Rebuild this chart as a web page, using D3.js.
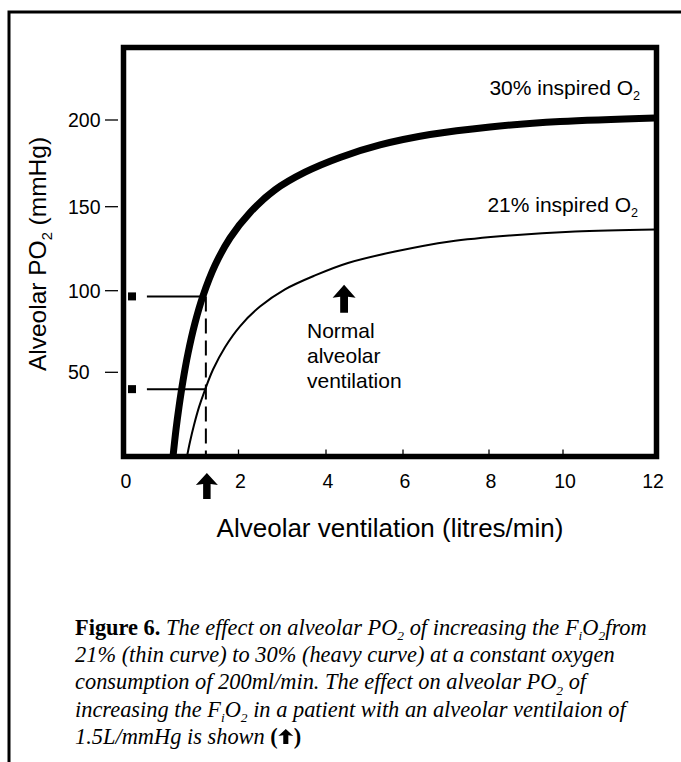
<!DOCTYPE html>
<html>
<head>
<meta charset="utf-8">
<script src="https://cdn.jsdelivr.net/npm/d3@7"></script>
<style>
  body { margin: 0; background: #fff; }
  svg { display: block; }
</style>
</head>
<body>
<div id="chart"></div>
<script>
///////////////////// Data ////////////////////////
// 30% inspired O2 (heavy curve)
var vent_30 = [0.856, 0.908, 0.961, 1.031, 1.118, 1.24, 1.38, 1.59, 1.852, 2.263, 2.834, 3.52, 4.364, 5.403, 6.628, 8.027, 9.92, 11.98];
var po2_30  = [0, 16, 29.6, 45.1, 61.6, 80.2, 96.8, 115.1, 131.4, 146.5, 159.7, 169.9, 178.4, 185.6, 191.6, 196, 199.1, 201.2];

// 21% inspired O2 (thin curve)
var vent_21 = [1.1, 1.153, 1.223, 1.31, 1.415, 1.555, 1.764, 2.034, 2.491, 3.063, 3.749, 4.571, 5.792, 7.093, 8.568, 10.26, 11.98];
var po2_21  = [0, 8.8, 18.7, 29.3, 39.6, 51.7, 65.4, 78.2, 90.3, 100.8, 109.1, 116.5, 123.3, 129.3, 132.9, 135.3, 136.5];

// axes
var x_ticks = [0, 2, 4, 6, 8, 10, 12];
var y_ticks = [50, 100, 150, 200];

// patient at 1.5 L/min, PO2 on each curve
var patient_vent = 1.43;
var patient_po2 = [96.5, 40];
var normal_vent = 4.47;
////////////////////////////////////////////////////////////////////////

var width = 681, height = 762;

var svg = d3.select("#chart").append("svg")
    .attr("width", width)
    .attr("height", height);

// the hand drawn axes are not quite even, so use the tick positions
var x = d3.scaleLinear().domain(x_ticks).range([124, 238.5, 326, 403, 489, 563, 656]);
var y = d3.scaleLinear().domain([0].concat(y_ticks)).range([456.5, 372.3, 290.7, 206.7, 120]);

var sans = "'Liberation Sans', Arial, Helvetica, sans-serif";
var serif = "'Liberation Serif', 'Times New Roman', serif";

// outer page frame (cut off at right and bottom)
svg.append("path")
    .attr("d", "M9," + height + "V12H" + width)
    .attr("fill", "none")
    .attr("stroke", "#000")
    .attr("stroke-width", 3);

// block arrow used for the annotations
var arrow = function(cx, top, w, h) {
    var hh = h * 0.46, sw = w * 0.34;
    return d3.line()([
        [cx, top], [cx + w / 2, top + hh], [cx + sw / 2, top + hh * 0.92],
        [cx + sw / 2, top + h], [cx - sw / 2, top + h],
        [cx - sw / 2, top + hh * 0.92], [cx - w / 2, top + hh]
    ]) + "Z";
};

// text with subscripts: parts are [string, kind]
var rich = function(sel, parts, size) {
    var shifted = false;
    parts.forEach(function(p) {
        var t = sel.append("tspan").text(p[0]);
        if (p[1] == "sub") {
            t.attr("font-size", size * 0.6).attr("dy", size * 0.24);
            shifted = true;
        } else {
            if (shifted) { t.attr("dy", -size * 0.24); shifted = false; }
            if (p[1] == "b") t.attr("font-weight", "bold").attr("font-style", "normal");
        }
    });
    return sel;
};

var g = svg.append("g");

// y axis ticks, outside the frame
g.selectAll(".ytick").data(y_ticks).enter().append("line")
    .attr("x1", 105).attr("x2", 118)
    .attr("y1", function(d) { return y(d); })
    .attr("y2", function(d) { return y(d); })
    .attr("stroke", "#000").attr("stroke-width", 1.3);

g.selectAll(".ylab").data(y_ticks).enter().append("text")
    .attr("x", 68)
    .attr("y", function(d) { return y(d) + 7; })
    .attr("font-family", sans).attr("font-size", 19.5)
    .text(function(d) { return d; });

// x axis ticks, inside the frame
g.selectAll(".xtick").data(x_ticks.slice(1, -1)).enter().append("line")
    .attr("x1", function(d) { return x(d); })
    .attr("x2", function(d) { return x(d); })
    .attr("y1", y(0)).attr("y2", y(0) - 7)
    .attr("stroke", "#000").attr("stroke-width", 1.3);

g.selectAll(".xlab").data(x_ticks).enter().append("text")
    .attr("x", function(d) { return x(d) + (d == 12 ? -3 : 2); })
    .attr("y", 488)
    .attr("text-anchor", "middle")
    .attr("font-family", sans).attr("font-size", 19.5)
    .text(function(d) { return d; });

// axis titles
rich(g.append("text")
    .attr("transform", "translate(46," + 254 + ") rotate(-90)")
    .attr("text-anchor", "middle")
    .attr("font-family", sans).attr("font-size", 24.5),
    [["Alveolar PO", ""], ["2", "sub"], [" (mmHg)", ""]], 24.5);

g.append("text")
    .attr("x", 390).attr("y", 537)
    .attr("text-anchor", "middle")
    .attr("font-family", sans).attr("font-size", 26)
    .text("Alveolar ventilation (litres/min)");

// curves
var line = d3.line()
    .x(function(d) { return x(d[0]); })
    .y(function(d) { return y(d[1]); })
    .curve(d3.curveCatmullRom.alpha(0.5));

g.append("path")
    .attr("d", line(d3.zip(vent_21, po2_21)))
    .attr("fill", "none").attr("stroke", "#000").attr("stroke-width", 2);

g.append("path")
    .attr("d", line(d3.zip(vent_30, po2_30)))
    .attr("fill", "none").attr("stroke", "#000").attr("stroke-width", 7);

// patient read-off lines
g.selectAll(".hline").data(patient_po2).enter().append("line")
    .attr("x1", x(0.4)).attr("x2", x(patient_vent))
    .attr("y1", function(d) { return y(d); })
    .attr("y2", function(d) { return y(d); })
    .attr("stroke", "#000").attr("stroke-width", 2);

g.selectAll(".sq").data(patient_po2).enter().append("rect")
    .attr("x", x(0.07)).attr("width", 8)
    .attr("y", function(d) { return y(d) - 4; }).attr("height", 8)
    .attr("fill", "#000");

g.append("line")
    .attr("x1", x(patient_vent)).attr("x2", x(patient_vent))
    .attr("y1", y(d3.max(patient_po2))).attr("y2", y(0))
    .attr("stroke", "#000").attr("stroke-width", 2)
    .attr("stroke-dasharray", "15,7");

// plot frame
g.append("rect")
    .attr("x", x(0) - 0.5).attr("y", 47.5)
    .attr("width", x(12) - x(0) + 1).attr("height", y(0) - 47.5)
    .attr("fill", "none").attr("stroke", "#000").attr("stroke-width", 5.5);

// arrows
g.append("path").attr("d", arrow(x(patient_vent) + 1, 473, 22, 26)).attr("fill", "#000");
g.append("path").attr("d", arrow(x(normal_vent), y(103.5), 23, 28)).attr("fill", "#000");

var normal_text = g.append("text")
    .attr("font-family", sans).attr("font-size", 21);
["Normal", "alveolar", "ventilation"].forEach(function(s, i) {
    normal_text.append("tspan").attr("x", 307).attr("y", 338 + i * 25).text(s);
});

// curve labels
rich(g.append("text").attr("x", 640).attr("y", 95).attr("text-anchor", "end")
    .attr("font-family", sans).attr("font-size", 21),
    [["30% inspired O", ""], ["2", "sub"]], 21);
rich(g.append("text").attr("x", 638).attr("y", 212).attr("text-anchor", "end")
    .attr("font-family", sans).attr("font-size", 21),
    [["21% inspired O", ""], ["2", "sub"]], 21);

// caption
var cap_size = 22.4;
var caption = [
    [["Figure 6.", "b"], [" The effect on alveolar PO", ""], ["2", "sub"], [" of increasing the F", ""], ["i", "sub"], ["O", ""], ["2", "sub"], ["from", ""]],
    [["21% (thin curve) to 30% (heavy curve) at a constant oxygen", ""]],
    [["consumption of 200ml/min. The effect on alveolar PO", ""], ["2", "sub"], [" of", ""]],
    [["increasing the F", ""], ["i", "sub"], ["O", ""], ["2", "sub"], [" in a patient with an alveolar ventilaion of", ""]],
    [["1.5L/mmHg is shown ", ""], ["(", "b"]]
];
var last;
caption.forEach(function(parts, i) {
    last = rich(svg.append("text")
        .attr("x", 75).attr("y", 635 + i * 27.2)
        .attr("font-family", serif).attr("font-style", "italic")
        .attr("font-size", cap_size), parts, cap_size);
});
var lw = last.node().getComputedTextLength();
svg.append("path").attr("d", arrow(75 + lw + 8, 729, 15, 15)).attr("fill", "#000");
svg.append("text")
    .attr("x", 75 + lw + 16).attr("y", 635 + 4 * 27.2)
    .attr("font-family", serif).attr("font-weight", "bold").attr("font-size", cap_size)
    .text(")");
</script>
</body>
</html>
